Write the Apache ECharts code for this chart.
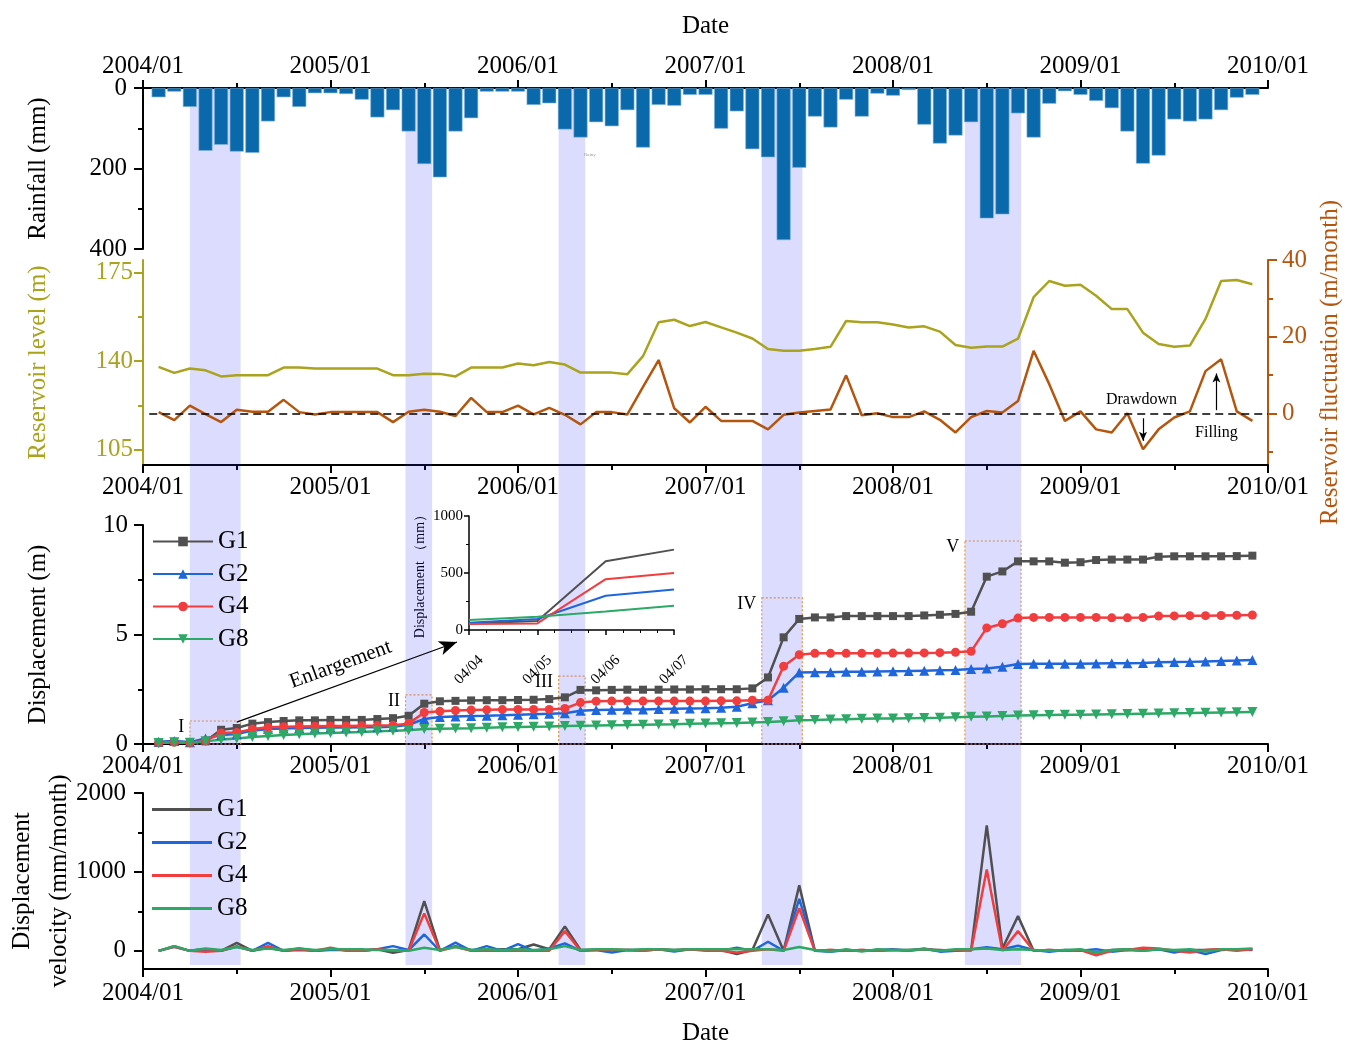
<!DOCTYPE html>
<html>
<head>
<meta charset="utf-8">
<title>Rainfall, reservoir level and displacement 2004-2010</title>
<script src="https://cdn.jsdelivr.net/npm/echarts@6/dist/echarts.min.js"></script>
<style>
  html, body { margin: 0; padding: 0; background: #fff; }
  #main { width: 1350px; height: 1041px; }
</style>
</head>
<body>
<div id="main"></div>
<script>
// x = months counted from 2004/01 (0); monthly values start at 2004/02 (1) and end at 2009/12 (71)
var yearLabels = ['2004/01', '2005/01', '2006/01', '2007/01', '2008/01', '2009/01', '2010/01'];

var rainfall = [23, 9, 47, 156, 141, 158, 161, 83, 23, 47, 13, 13,
  15, 29, 73, 55, 108, 189, 222, 108, 75, 9, 9, 9,
  42, 38, 103, 123, 85, 95, 55, 148, 42, 44, 17, 17,
  101, 58, 152, 172, 378, 198, 71, 98, 29, 71, 14, 19,
  5, 91, 138, 118, 85, 324, 314, 63, 123, 39, 8, 17,
  32, 50, 108, 188, 168, 78, 83, 78, 55, 24, 17];

var reservoirLevel = [137.8, 135.4, 137.1, 136.4, 134.0, 134.5, 134.5, 134.5, 137.5, 137.5, 137.1, 137.1,
  137.1, 137.1, 137.1, 134.5, 134.5, 135.1, 135.0, 134.0, 137.5, 137.5, 137.5, 139.1,
  138.4, 139.7, 138.7, 135.5, 135.5, 135.5, 134.9, 142.0, 155.4, 156.4, 153.9, 155.5,
  153.4, 151.3, 149.0, 144.8, 144.1, 144.1, 144.8, 145.7, 155.9, 155.4, 155.4, 154.5,
  153.3, 153.8, 151.7, 146.4, 145.3, 145.8, 145.8, 148.9, 165.3, 171.7, 169.8, 170.2,
  165.9, 160.6, 160.6, 151.3, 146.8, 145.7, 146.2, 156.7, 171.7, 172.1, 170.4];

var reservoirFluct = [0.3, -1.8, 2.0, -0.2, -2.3, 0.9, 0.4, 0.4, 3.5, 0.3, -0.3, 0.3,
  0.3, 0.3, 0.3, -2.3, 0.4, 0.9, 0.4, -0.7, 4.0, 0.3, 0.3, 2.0,
  -0.3, 1.4, -0.4, -2.9, 0.3, 0.3, -0.3, 6.9, 13.9, 1.3, -2.4, 1.7,
  -2.0, -2.0, -2.0, -4.2, -0.4, 0.2, 0.6, 1.0, 9.9, -0.5, 0.0, -1.0,
  -1.0, 0.5, -1.7, -5.0, -1.0, 0.6, 0.2, 3.2, 16.3, 7.6, -2.0, 0.5,
  -4.2, -5.0, 0.0, -9.4, -4.2, -1.1, 0.5, 11.0, 14.1, 0.5, -2.0];

var dispG1 = [0.05, 0.1, 0.08, 0.12, 0.65, 0.73, 0.93, 1.0, 1.05, 1.08, 1.08, 1.1,
  1.1, 1.1, 1.14, 1.18, 1.29, 1.84, 1.95, 1.97, 1.99, 2.0, 2.0, 2.01,
  2.02, 2.05, 2.13, 2.47, 2.45, 2.47, 2.48, 2.48, 2.48, 2.49, 2.49, 2.5,
  2.5, 2.5, 2.54, 3.04, 4.87, 5.71, 5.78, 5.78, 5.84, 5.84, 5.84, 5.84,
  5.84, 5.87, 5.9, 5.94, 6.04, 7.64, 7.88, 8.34, 8.34, 8.34, 8.28, 8.3,
  8.4, 8.42, 8.42, 8.42, 8.55, 8.57, 8.57, 8.57, 8.57, 8.58, 8.6];
var dispG2 = [0.1, 0.14, 0.08, 0.25, 0.41, 0.46, 0.61, 0.68, 0.71, 0.73, 0.74, 0.75,
  0.75, 0.76, 0.77, 0.79, 0.88, 1.14, 1.23, 1.26, 1.28, 1.29, 1.31, 1.34,
  1.36, 1.38, 1.4, 1.52, 1.55, 1.56, 1.57, 1.58, 1.6, 1.61, 1.62, 1.63,
  1.66, 1.7, 1.86, 2.0, 2.57, 3.27, 3.28, 3.28, 3.3, 3.3, 3.31, 3.32,
  3.33, 3.35, 3.37, 3.38, 3.42, 3.45, 3.53, 3.65, 3.66, 3.66, 3.67, 3.67,
  3.68, 3.69, 3.69, 3.7, 3.73, 3.74, 3.75, 3.77, 3.79, 3.81, 3.84];
var dispG4 = [0.05, 0.08, 0.05, 0.15, 0.5, 0.53, 0.68, 0.76, 0.79, 0.8, 0.81, 0.82,
  0.82, 0.83, 0.84, 0.86, 0.93, 1.44, 1.49, 1.53, 1.55, 1.56, 1.57, 1.58,
  1.58, 1.58, 1.62, 1.89, 1.95, 1.96, 1.96, 1.96, 1.96, 1.96, 1.96, 1.96,
  1.97, 1.97, 2.0, 2.0, 3.55, 4.08, 4.14, 4.14, 4.14, 4.14, 4.14, 4.15,
  4.15, 4.16, 4.17, 4.19, 4.23, 5.3, 5.49, 5.75, 5.78, 5.78, 5.78, 5.78,
  5.78, 5.76, 5.76, 5.78, 5.84, 5.85, 5.86, 5.86, 5.87, 5.88, 5.89];
var dispG8 = [0.05, 0.08, 0.06, 0.12, 0.2, 0.25, 0.32, 0.36, 0.41, 0.45, 0.48, 0.5,
  0.53, 0.55, 0.58, 0.6, 0.63, 0.68, 0.7, 0.71, 0.72, 0.74, 0.76, 0.78,
  0.79, 0.8, 0.82, 0.83, 0.84, 0.86, 0.87, 0.88, 0.89, 0.9, 0.92, 0.94,
  0.95, 0.96, 0.98, 1.0, 1.04, 1.09, 1.1, 1.12, 1.13, 1.15, 1.16, 1.17,
  1.18, 1.19, 1.2, 1.22, 1.24, 1.26, 1.28, 1.3, 1.31, 1.32, 1.33, 1.34,
  1.35, 1.36, 1.37, 1.38, 1.39, 1.4, 1.41, 1.43, 1.44, 1.45, 1.46];

var velG1 = [0, 60, 0, 20, 0, 100, 0, 40, 0, 30, 0, 20,
  10, 0, 20, -25, 10, 630, 10, 60, 10, 10, 20, 20,
  80, 20, 310, 10, 15, 15, 10, 10, 20, 10, 20, 20,
  10, -40, 10, 460, 0, 830, 0, 10, 0, 10, 0, 10,
  10, 20, 10, 0, 10, 1590, 30, 440, 0, 10, 0, 10,
  -20, 10, 20, 10, 20, 0, 10, 10, 20, 10, 20];
var velG2 = [0, 50, 0, 20, 0, 50, 0, 100, 0, 10, 0, 10,
  10, 0, 20, 60, 10, 207, 0, 105, 0, 60, 0, 85,
  0, 30, 95, 0, 10, -20, 10, 0, 20, -10, 20, 10,
  0, 40, 0, 115, 0, 660, 0, -10, 10, 0, 10, 20,
  0, 30, -10, 0, 20, 45, 20, 65, 10, -10, 10, 0,
  20, -10, 10, 0, 20, -20, 10, -40, 10, 20, 10];
var velG4 = [0, 50, 0, -10, 0, 60, 0, 60, 0, 20, 0, 40,
  0, 0, 20, 0, 0, 475, 0, 50, 0, 0, 0, 0,
  0, 0, 250, 0, 10, 10, 10, 0, 20, 0, 20, 0,
  0, -20, 0, 20, 0, 540, 0, 10, 0, 10, 0, 10,
  0, 20, 0, 10, 0, 1030, 0, 250, 0, 10, 0, 10,
  -55, 0, 10, 40, 30, 0, -20, 10, 20, 0, 20];
var velG8 = [0, 60, 0, 30, 10, 50, 10, 30, 10, 30, 10, 20,
  20, 20, 10, 10, 0, 40, 10, 50, 10, 20, 10, 20,
  10, 20, 60, 10, 20, 20, 10, 20, 20, 10, 20, 20,
  20, 20, 20, 20, 10, 50, 10, -10, 20, -10, 20, 10,
  10, 20, 0, 20, 20, 30, 10, 20, 10, 0, 10, 20,
  -20, 10, 20, 0, 20, 10, 20, -10, 20, 20, 30];

// enlargement of period I (mm)
var insetLabels = ['04/04', '04/05', '04/06', '04/07'];
var insetG1 = [58, 80, 603, 705];
var insetG2 = [64, 96, 300, 355];
var insetG4 = [52, 58, 446, 501];
var insetG8 = [87, 117, 163, 213];

// rainy periods (month from, month to), labels and box heights (m)
var bands = [[3.0, 6.25], [16.8, 18.5], [26.6, 28.3], [39.6, 42.2], [52.6, 56.2]];
var bandNames = ['I', 'II', 'III', 'IV', 'V'];
var boxTops = [1.05, 2.24, 3.1, 6.67, 9.27];

var FONT = '"Liberation Serif", "Times New Roman", serif';
var colors = {
  g1: '#505050', g2: '#1f66dd', g4: '#f23d3f', g8: '#2da866',
  olive: '#aaa31e', rust: '#b5560f', bar: '#0a69ab', box: '#f2a23c'
};

function toPairs(arr) {
  return arr.map(function(v, i) { return [i + 1, v]; });
}

function txt(size, color) {
  return { fontSize: size, fontFamily: FONT, color: color || '#000' };
}

function plain(v) { return String(v); }

function timeAxis(grid, pos, showLabel, labelMargin) {
  return {
    type: 'value', gridIndex: grid, position: pos, min: 0, max: 72, interval: 12,
    axisLine: { show: true, onZero: false, lineStyle: { color: '#000', width: 2 } },
    axisTick: { show: true, length: 8, lineStyle: { color: '#000', width: 2 } },
    minorTick: { show: true, splitNumber: 2, length: 5, lineStyle: { color: '#000', width: 2 } },
    splitLine: { show: false },
    axisLabel: {
      show: showLabel, margin: labelMargin || 10, fontSize: 25, fontFamily: FONT, color: '#000',
      formatter: function(v) { return yearLabels[Math.round(v / 12)]; }
    }
  };
}

// second axis on the same side, only used to draw the short ticks
function minorAxis(grid, pos, min, max, values, color) {
  return {
    type: 'value', gridIndex: grid, position: pos, min: min, max: max,
    axisLine: { show: false },
    axisTick: { show: true, customValues: values, length: 5, lineStyle: { color: color, width: 2 } },
    axisLabel: { show: false },
    splitLine: { show: false }
  };
}

var chart = echarts.init(document.getElementById('main'));

var dispSeries = [
  { name: 'G1', data: dispG1, color: colors.g1, symbol: 'rect', size: 8, rot: 0 },
  { name: 'G2', data: dispG2, color: colors.g2, symbol: 'triangle', size: 10, rot: 0 },
  { name: 'G4', data: dispG4, color: colors.g4, symbol: 'circle', size: 9, rot: 0 },
  { name: 'G8', data: dispG8, color: colors.g8, symbol: 'triangle', size: 10, rot: 180 }
].map(function(s) {
  return {
    type: 'line', name: s.name, xAxisIndex: 2, yAxisIndex: 5, data: toPairs(s.data),
    symbol: s.symbol, symbolSize: s.size, symbolRotate: s.rot, showAllSymbol: true,
    itemStyle: { color: s.color }, lineStyle: { color: s.color, width: 2.5 }, z: 3
  };
});

// enlargement arrow
dispSeries[0].markLine = {
  silent: true, animation: false,
  lineStyle: { color: '#000', width: 1.2, type: 'solid' },
  label: { show: true, position: 'insideMiddleTop', formatter: 'Enlargement', fontSize: 21, fontFamily: FONT, color: '#000', distance: 8 },
  data: [[
    { coord: [6.0, 1.0], symbol: 'none' },
    { coord: [20.1, 4.66], symbol: 'arrow', symbolSize: [11, 18] }
  ]]
};

// dotted boxes of the five periods
dispSeries[3].markArea = {
  silent: true, animation: false,
  itemStyle: { color: 'rgba(0,0,0,0)', borderColor: colors.box, borderWidth: 1.2, borderType: [2, 2] },
  label: { show: true, position: [-5, 7], align: 'right', verticalAlign: 'middle', fontSize: 18, fontFamily: FONT, color: '#000' },
  data: bands.map(function(b, i) {
    return [{ name: bandNames[i], xAxis: b[0], yAxis: boxTops[i] }, { xAxis: b[1], yAxis: 0 }];
  })
};

var velSeries = [
  { name: 'G1 ', data: velG1, color: colors.g1 },
  { name: 'G2 ', data: velG2, color: colors.g2 },
  { name: 'G4 ', data: velG4, color: colors.g4 },
  { name: 'G8 ', data: velG8, color: colors.g8 }
].map(function(s) {
  return {
    type: 'line', name: s.name, xAxisIndex: 3, yAxisIndex: 6, data: toPairs(s.data),
    symbol: 'none', itemStyle: { color: s.color }, lineStyle: { color: s.color, width: 2.5 }
  };
});

var insetSeries = [
  { data: insetG1, color: colors.g1 },
  { data: insetG2, color: colors.g2 },
  { data: insetG4, color: colors.g4 },
  { data: insetG8, color: colors.g8 }
].map(function(s, i) {
  return {
    type: 'line', name: 'inset' + i, xAxisIndex: 4, yAxisIndex: 8,
    data: s.data.map(function(v, j) { return [j, v]; }),
    symbol: 'none', lineStyle: { color: s.color, width: 2 }, itemStyle: { color: s.color }
  };
});

var option = {
  backgroundColor: '#fff',
  animation: false,
  textStyle: { fontFamily: FONT },
  grid: [
    { left: 143, right: 82, top: 88, height: 161, outerBoundsMode: 'none' },   // rainfall
    { left: 143, right: 82, top: 260, height: 205, outerBoundsMode: 'none' },  // reservoir
    { left: 143, right: 82, top: 525, height: 219, outerBoundsMode: 'none' },  // displacement
    { left: 143, right: 82, top: 793, height: 176, outerBoundsMode: 'none' },  // velocity
    { left: 469, top: 516, width: 205, height: 114, outerBoundsMode: 'none' }, // enlargement
    { left: 143, right: 82, top: 88, height: 877, outerBoundsMode: 'none' }    // rainy period bands
  ],
  legend: [
    {
      data: ['G1', 'G2', 'G4', 'G8'], orient: 'vertical', left: 147, top: 524,
      itemWidth: 60, itemHeight: 12, itemGap: 7.5, textStyle: txt(25), z: 20,
      selectedMode: false
    },
    {
      data: ['G1 ', 'G2 ', 'G4 ', 'G8 '], orient: 'vertical', left: 147, top: 792,
      icon: 'rect', itemWidth: 60, itemHeight: 3, itemGap: 8, textStyle: txt(25), z: 20,
      selectedMode: false,
      formatter: function(n) { return n.trim(); }
    }
  ],
  xAxis: [
    (function() {
      var a = timeAxis(0, 'top', true, 9);
      a.name = 'Date'; a.nameLocation = 'middle'; a.nameGap = 49;
      a.nameTextStyle = txt(25);
      return a;
    })(),
    timeAxis(1, 'bottom', true, 10),
    timeAxis(2, 'bottom', true, 10),
    (function() {
      var a = timeAxis(3, 'bottom', true, 12);
      a.name = 'Date'; a.nameLocation = 'middle'; a.nameGap = 52;
      a.nameTextStyle = txt(25);
      return a;
    })(),
    {
      type: 'value', gridIndex: 4, min: 0, max: 3, interval: 1,
      axisLine: { show: true, onZero: false, lineStyle: { color: '#000', width: 1.5 } },
      axisTick: { length: 5, lineStyle: { color: '#000', width: 1.5 } },
      minorTick: { show: true, splitNumber: 4, length: 3, lineStyle: { color: '#000', width: 1 } },
      splitLine: { show: false },
      axisLabel: {
        rotate: 45, align: 'center', verticalAlign: 'middle', margin: 40,
        fontSize: 15, fontFamily: FONT, color: '#000',
        formatter: function(v) { return insetLabels[Math.round(v)]; }
      }
    },
    { type: 'value', gridIndex: 5, min: 0, max: 72, show: false }
  ],
  yAxis: [
    {
      type: 'value', gridIndex: 0, inverse: true, min: 0, max: 400, interval: 200,
      name: 'Rainfall (mm)', nameLocation: 'middle', nameRotate: 90, nameGap: 92,
      nameTextStyle: txt(25),
      axisLine: { show: true, onZero: false, lineStyle: { color: '#000', width: 2 } },
      axisTick: { length: 9, lineStyle: { color: '#000', width: 2 } },
      minorTick: { show: true, splitNumber: 2, length: 5, lineStyle: { color: '#000', width: 2 } },
      splitLine: { show: false },
      axisLabel: { margin: 16, fontSize: 25, fontFamily: FONT, color: '#000' }
    },
    {
      type: 'value', gridIndex: 1, position: 'left', min: 99, max: 180,
      name: 'Reservoir level (m)', nameLocation: 'middle', nameRotate: 90, nameGap: 92,
      nameTextStyle: txt(25, colors.olive),
      axisLine: { show: true, onZero: false, lineStyle: { color: colors.olive, width: 2 } },
      axisTick: { customValues: [105, 140, 175], length: 9, lineStyle: { color: colors.olive, width: 2 } },
      splitLine: { show: false },
      axisLabel: { customValues: [105, 140, 175], margin: 10, fontSize: 25, fontFamily: FONT, color: colors.olive }
    },
    minorAxis(1, 'left', 99, 180, [122.5, 157.5], colors.olive),
    {
      type: 'value', gridIndex: 1, position: 'right', min: -13.5, max: 40,
      name: 'Reservoir fluctuation (m/month)', nameLocation: 'middle', nameRotate: 90, nameGap: 46,
      nameTextStyle: txt(25, colors.rust),
      axisLine: { show: true, onZero: false, lineStyle: { color: colors.rust, width: 2 } },
      axisTick: { customValues: [0, 20, 40], length: 9, lineStyle: { color: colors.rust, width: 2 } },
      splitLine: { show: false },
      axisLabel: { customValues: [0, 20, 40], margin: 14, fontSize: 25, fontFamily: FONT, color: colors.rust }
    },
    minorAxis(1, 'right', -13.5, 40, [-10, 10, 30], colors.rust),
    {
      type: 'value', gridIndex: 2, min: 0, max: 10, interval: 5,
      name: 'Displacement (m)', nameLocation: 'middle', nameRotate: 90, nameGap: 92,
      nameTextStyle: txt(25),
      axisLine: { show: true, onZero: false, lineStyle: { color: '#000', width: 2 } },
      axisTick: { length: 9, lineStyle: { color: '#000', width: 2 } },
      minorTick: { show: true, splitNumber: 2, length: 5, lineStyle: { color: '#000', width: 2 } },
      splitLine: { show: false },
      axisLabel: { margin: 15, fontSize: 25, fontFamily: FONT, color: '#000' }
    },
    {
      type: 'value', gridIndex: 3, position: 'left', min: -230, max: 2000,
      name: 'Displacement\nvelocity (mm/month)', nameLocation: 'middle', nameRotate: 90, nameGap: 65,
      nameMoveOverlap: false,
      nameTextStyle: { fontSize: 25, fontFamily: FONT, color: '#000', lineHeight: 37 },
      axisLine: { show: true, onZero: false, lineStyle: { color: '#000', width: 2 } },
      axisTick: { customValues: [0, 1000, 2000], length: 9, lineStyle: { color: '#000', width: 2 } },
      splitLine: { show: false },
      axisLabel: { customValues: [0, 1000, 2000], formatter: plain, margin: 17, fontSize: 25, fontFamily: FONT, color: '#000' }
    },
    minorAxis(3, 'left', -230, 2000, [500, 1500], '#000'),
    {
      type: 'value', gridIndex: 4, min: 0, max: 1000, interval: 500,
      name: 'Displacement （mm）', nameLocation: 'middle', nameRotate: 90, nameGap: 42,
      nameTextStyle: { fontSize: 14, fontFamily: FONT, color: '#000' },
      axisLine: { show: true, onZero: false, lineStyle: { color: '#000', width: 1.5 } },
      axisTick: { length: 5, lineStyle: { color: '#000', width: 1.5 } },
      minorTick: { show: true, splitNumber: 2, length: 3, lineStyle: { color: '#000', width: 1 } },
      splitLine: { show: false },
      axisLabel: { formatter: plain, margin: 6, fontSize: 15, fontFamily: FONT, color: '#000' }
    },
    { type: 'value', gridIndex: 5, min: 0, max: 1, show: false }
  ],
  series: [
    {
      type: 'bar', name: 'Rainfall', xAxisIndex: 0, yAxisIndex: 0, data: toPairs(rainfall),
      barWidth: 14,
      itemStyle: { color: colors.bar, borderColor: '#7fb3db', borderWidth: 0.6 },
      markPoint: {
        silent: true, symbol: 'rect', symbolSize: 1, itemStyle: { color: 'rgba(0,0,0,0)' },
        label: { show: true, formatter: 'Rainy', fontSize: 5, fontFamily: FONT, color: '#999' },
        data: [{ coord: [28.6, 166] }]
      }
    },
    {
      type: 'line', name: 'Reservoir level', xAxisIndex: 1, yAxisIndex: 1, data: toPairs(reservoirLevel),
      symbol: 'none', lineStyle: { color: colors.olive, width: 2.5 }, itemStyle: { color: colors.olive }
    },
    {
      type: 'line', name: 'Reservoir fluctuation', xAxisIndex: 1, yAxisIndex: 3, data: toPairs(reservoirFluct),
      symbol: 'none', lineStyle: { color: colors.rust, width: 2.5 }, itemStyle: { color: colors.rust },
      markLine: {
        silent: true, animation: false,
        label: { show: false },
        data: [
          [
            { coord: [0.4, 0], symbol: 'none', lineStyle: { color: '#000', width: 1.5, type: [8, 5] } },
            { coord: [72, 0], symbol: 'none' }
          ],
          [
            { coord: [64, -1.3], symbol: 'none', lineStyle: { color: '#000', width: 1.2, type: 'solid' } },
            { coord: [64, -7.2], symbol: 'arrow', symbolSize: [6, 9] }
          ],
          [
            { coord: [68.7, 0.8], symbol: 'none', lineStyle: { color: '#000', width: 1.2, type: 'solid' } },
            { coord: [68.7, 10.4], symbol: 'arrow', symbolSize: [6, 9] }
          ]
        ]
      },
      markPoint: {
        silent: true, symbol: 'rect', symbolSize: 1, itemStyle: { color: 'rgba(0,0,0,0)' },
        label: { show: true, fontSize: 16, fontFamily: FONT, color: '#000' },
        data: [
          { coord: [63.9, 3.6], label: { formatter: 'Drawdown' } },
          { coord: [68.7, -5.2], label: { formatter: 'Filling' } }
        ]
      }
    }
  ].concat(dispSeries, velSeries, insetSeries, [
    {
      type: 'line', name: 'bands', xAxisIndex: 5, yAxisIndex: 9, data: [[0, -1]],
      symbol: 'none', silent: true, z: 10,
      markArea: {
        silent: true, animation: false,
        itemStyle: { color: 'rgba(50,50,250,0.17)' },
        label: { show: false },
        data: bands.map(function(b) { return [{ xAxis: b[0] }, { xAxis: b[1] }]; })
      }
    }
  ])
};

chart.setOption(option);
</script>
</body>
</html>
